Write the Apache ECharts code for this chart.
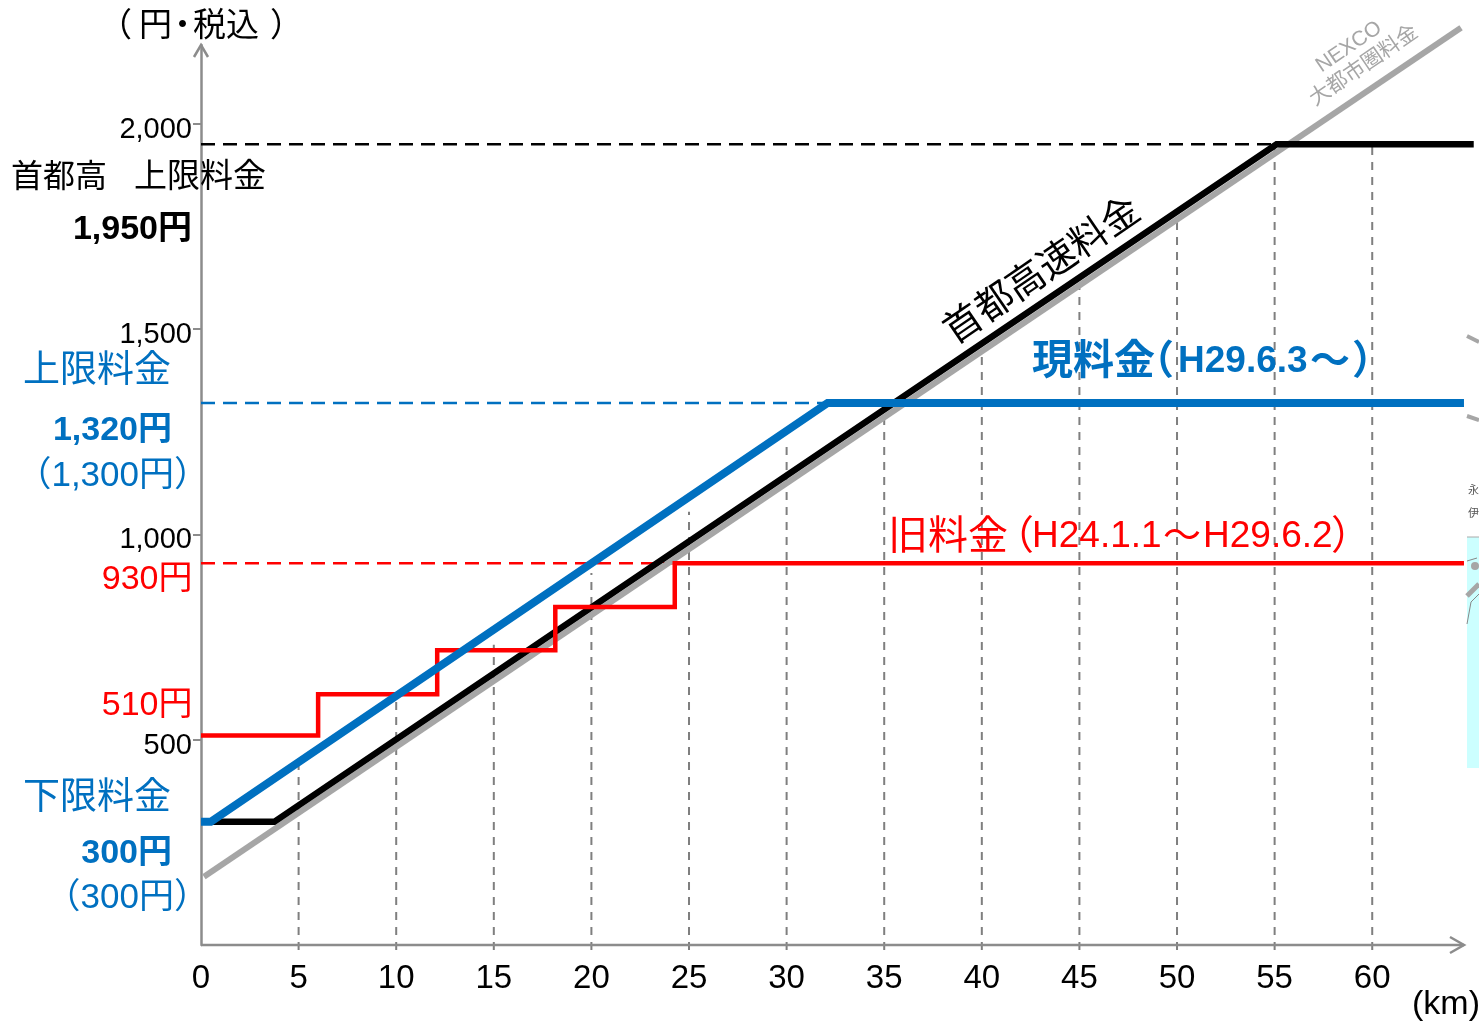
<!DOCTYPE html>
<html>
<head>
<meta charset="utf-8">
<style>html,body{margin:0;padding:0;background:#fff;overflow:hidden}#chart{width:1479px;height:1021px}</style>
<script src="https://cdn.jsdelivr.net/npm/echarts@6/dist/echarts.min.js"></script>
</head>
<body>
<div id="chart"></div>
<script>
// Toll by distance: km on x, yen on y.
const xTicks = [0, 5, 10, 15, 20, 25, 30, 35, 40, 45, 50, 55, 60];
const yTicks = [500, 1000, 1500, 2000];
const nexcoRate = [[0.15, 166], [64.55, 2234]];
const shutokoRate = [[0, 300], [3.75, 300], [55.1, 1950], [65.2, 1950]];
const currentRate = [[0, 300], [0.5, 300], [32.1, 1320], [64.7, 1320]];
const oldRate = [[0, 510], [6.0, 510], [6.0, 611], [12.1, 611], [12.1, 718], [18.15, 718], [18.15, 823], [24.27, 823], [24.27, 930], [64.7, 930]];
const capShutoko = [[0, 1950], [55.1, 1950]];
const capCurrent = [[0, 1320], [32.1, 1320]];
const capOld = [[0, 930], [24.27, 930]];
const dropKm = [5, 10, 15, 20, 25, 30, 35, 40, 45, 50, 55, 60];
const dropTops = [438, 597, 731, 906, 1055, 1230, 1315, 1450, 1613, 1773, 1950, 1950];
const xAxisExtent = [[0, 0], [64.7, 0]];

const LATIN = '"Liberation Sans","Noto Sans CJK JP",sans-serif';
const BLUE = '#0070c0', RED = '#ff0000', AXIS = '#8c8c8c', GREY = '#a6a6a6';

const chart = echarts.init(document.getElementById('chart'), null, {renderer: 'canvas'});

function solid(name, data, color, width, z) {
  return {name, type: 'line', data, symbol: 'none', clip: false, z,
    lineStyle: {color, width, cap: 'butt', join: 'miter'}};
}
function dashed(name, data, color, width, z, dash) {
  return {name, type: 'line', data, symbol: 'none', clip: false, z,
    lineStyle: {color, width, type: dash, cap: 'butt'}};
}
function text(str, x, y, size, color, opt) {
  opt = opt || {};
  return {type: 'text', x, y, rotation: opt.rotation || 0, z: 50,
    style: {text: str, fill: color, font: (opt.bold ? 'bold ' : '') + size + 'px ' + LATIN,
      textAlign: opt.align || 'left', textVerticalAlign: 'middle', textBaseline: 'middle'}};
}
function stroke(points, color, width) {
  return {type: 'polyline', z: 40, shape: {points}, style: {stroke: color, lineWidth: width, fill: null}};
}

const drops = dropKm.map((x, i) => dashed('d' + x, [[x, -12], [x, dropTops[i]]], '#7f7f7f', 2, 1, [8, 7]));

chart.setOption({
  animation: false,
  backgroundColor: '#fff',
  grid: {left: 201, right: 0, top: 45, bottom: 76, containLabel: false},
  xAxis: {
    type: 'value', min: 0, max: 65.47, splitLine: {show: false},
    axisLine: {show: false},
    axisTick: {show: false},
    axisLabel: {customValues: xTicks, color: '#000', fontFamily: LATIN, fontSize: 33, margin: 17}
  },
  yAxis: {
    type: 'value', min: 0, max: 2192, splitLine: {show: false},
    axisLine: {show: true, lineStyle: {color: AXIS, width: 2.5}},
    axisTick: {show: true, customValues: yTicks, length: 8, lineStyle: {color: AXIS, width: 2}},
    axisLabel: {customValues: yTicks, color: '#000', fontFamily: LATIN, fontSize: 29, margin: 9,
      verticalAlign: 'top', lineHeight: 12,
      formatter: v => v.toLocaleString('en-US')}
  },
  series: [
    solid('距離軸', xAxisExtent, AXIS, 2.5, 2),
    ...drops,
    solid('NEXCO大都市圏料金', nexcoRate, GREY, 6, 3),
    solid('首都高速料金', shutokoRate, '#000', 6.5, 4),
    solid('旧料金', oldRate, RED, 4.5, 5),
    solid('現料金', currentRate, BLUE, 8, 6),
    dashed('首都高上限', capShutoko, '#000', 2.5, 2, [14, 8]),
    dashed('現上限', capCurrent, BLUE, 2.5, 2, [14, 8]),
    dashed('旧上限', capOld, RED, 2.5, 2, [14, 8])
  ],
  graphic: [
    // open arrow heads on both axes
    stroke([[194, 57], [201, 45], [208, 57]], AXIS, 2.5),
    stroke([[1450, 937], [1464, 945], [1450, 953]], AXIS, 2.5),

    text('（', 99, 27, 33, '#000'),
    text('円', 139, 27, 33, '#000'),
    text('・', 166, 27, 33, '#000'),
    text('税込', 193, 27, 33, '#000'),
    text('）', 270, 27, 33, '#000'),

    text('首都高', 11, 178, 32, '#000'),
    text('上限料金', 134, 178, 33, '#000'),
    text('1,950円', 192, 230, 34, '#000', {bold: true, align: 'right'}),

    text('上限料金', 23, 372, 37, BLUE),
    text('1,320円', 172, 431, 34, BLUE, {bold: true, align: 'right'}),
    text('（1,300円）', 209, 476, 35, BLUE, {align: 'right'}),

    text('930円', 192.5, 580, 34, RED, {align: 'right'}),
    text('510円', 192.5, 706, 34, RED, {align: 'right'}),

    text('下限料金', 23, 799, 37, BLUE),
    text('300円', 172, 854, 34, BLUE, {bold: true, align: 'right'}),
    text('（300円）', 209, 898, 35, BLUE, {align: 'right'}),

    text('現料金', 1032, 363, 41, BLUE, {bold: true}),
    text('（', 1134, 363, 40, BLUE, {bold: true}),
    text('H29.6.3', 1178, 362, 37, BLUE, {bold: true}),
    text('～', 1310, 363, 40, BLUE, {bold: true}),
    text('）', 1352, 363, 40, BLUE, {bold: true}),

    text('旧料金', 888, 538, 40, RED),
    text('（', 994, 538, 40, RED),
    text('H24.1.1', 1032, 537, 37, RED),
    text('～', 1163, 538, 38, RED),
    text('H29.6.2', 1203, 537, 37, RED),
    text('）', 1331, 538, 40, RED),

    text('首都高速料金', 1043, 272, 38, '#000', {align: 'center', rotation: 0.6}),
    text('NEXCO', 1349, 47, 21, GREY, {align: 'center', rotation: 0.6}),
    text('大都市圏料金', 1364, 66, 21, GREY, {align: 'center', rotation: 0.6}),
    text('(km)', 1412, 1005, 34, '#000'),

    // edge of the neighbouring panel
    {type: 'rect', z: 0, shape: {x: 1467, y: 537, width: 12, height: 231}, style: {fill: '#ccffff'}},
    stroke([[1467, 537], [1479, 537]], '#aaaaaa', 1),
    stroke([[1467, 336], [1479, 342]], GREY, 4),
    stroke([[1467, 416], [1479, 420]], GREY, 4),
    stroke([[1467, 596], [1479, 584]], GREY, 5),
    stroke([[1467, 561], [1477, 558]], '#888888', 1),
    stroke([[1467, 624], [1471, 602], [1479, 594]], '#888888', 1),
    {type: 'circle', z: 40, shape: {cx: 1475, cy: 566, r: 4}, style: {fill: GREY}},
    text('永', 1468, 491, 11, '#555'),
    text('伊', 1468, 514, 11, '#555')
  ]
});
</script>
</body>
</html>
